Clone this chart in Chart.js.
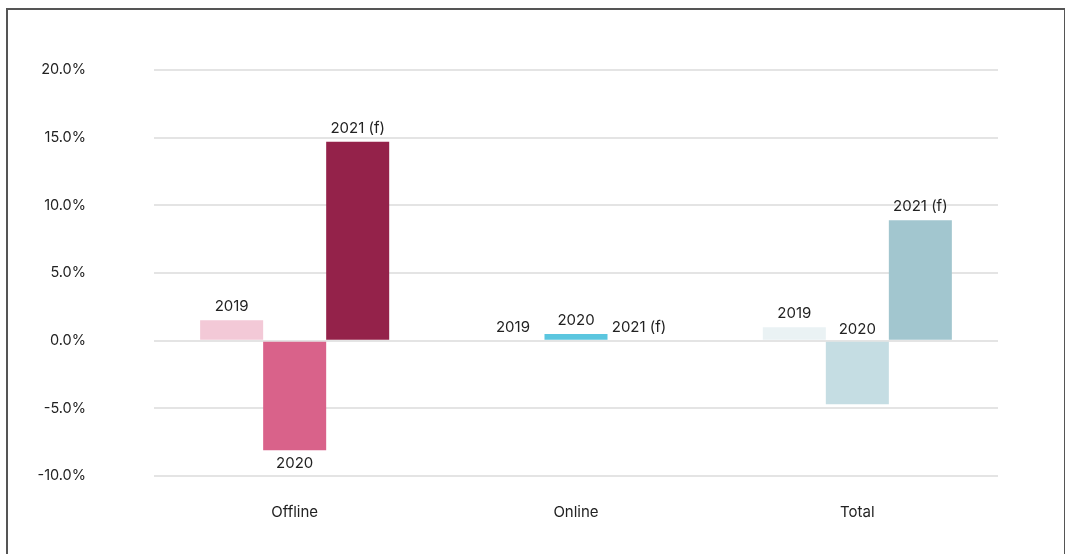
<!DOCTYPE html>
<html>
<head>
<meta charset="utf-8">
<script src="https://cdn.jsdelivr.net/npm/chart.js@4.4.1/dist/chart.umd.min.js"></script>
<style>
  html, body { margin: 0; padding: 0; background: #fff; }
  #wrap { position: relative; width: 1065px; height: 554px; }
  #frame {
    position: absolute; left: 6px; top: 8px; width: 1056px; height: 600px;
    border: 2px solid #555; border-bottom: none; pointer-events: none;
  }
</style>
</head>
<body>
<div id="wrap">
  <canvas id="growthChart"></canvas>
  <div id="frame"></div>
</div>
<script>
const categories = ['Offline', 'Online', 'Total'];
const seriesNames = ['2019', '2020', '2021 (f)'];
const values2019 = [1.5, 0, 1.0];
const values2020 = [-8.1, 0.5, -4.7];
const values2021 = [14.7, 0, 8.9];
const yTicks = [-10, -5, 0, 5, 10, 15, 20];

// colour per category (Offline, Online, Total)
const colors2019 = ['#f3c9d7', '#c9ecf5', '#eaf2f4'];
const colors2020 = ['#d9628a', '#5bc6df', '#c5dde3'];
const colors2021 = ['#94224a', '#2b8fa8', '#a2c6cf'];

// where the year name sits: 'end' = past the end of the bar, 'zero' = just above the zero line
const place2019 = ['end', 'end', 'end'];
const place2020 = ['end', 'end', 'zero'];
const place2021 = ['end', 'end', 'end'];

const FONT = 'Inter, "DejaVu Sans", sans-serif';

const yearLabels = {
  id: 'yearLabels',
  afterDatasetsDraw(chart) {
    const ctx = chart.ctx;
    ctx.save();
    ctx.font = '15px ' + FONT;
    ctx.fillStyle = '#222';
    ctx.textAlign = 'center';
    chart.data.datasets.forEach((ds, i) => {
      chart.getDatasetMeta(i).data.forEach((bar, j) => {
        const v = ds.data[j];
        if (ds.place[j] === 'zero') {
          ctx.textBaseline = 'bottom';
          ctx.fillText(ds.label, bar.x, bar.base - 5);
        } else if (v < 0) {
          ctx.textBaseline = 'top';
          ctx.fillText(ds.label, bar.x, bar.y + 6);
        } else {
          ctx.textBaseline = 'bottom';
          ctx.fillText(ds.label, bar.x, bar.y - 6);
        }
      });
    });
    ctx.restore();
  }
};

const ctx = document.getElementById('growthChart').getContext('2d');
new Chart(ctx, {
  type: 'bar',
  data: {
    labels: categories,
    datasets: [
      { label: seriesNames[0], data: values2019, backgroundColor: colors2019, place: place2019 },
      { label: seriesNames[1], data: values2020, backgroundColor: colors2020, place: place2020 },
      { label: seriesNames[2], data: values2021, backgroundColor: colors2021, place: place2021 }
    ]
  },
  options: {
    responsive: true,
    maintainAspectRatio: false,
    animation: { duration: 0 },
    layout: { padding: { left: 0, right: 67, top: 70, bottom: 0 } },
    datasets: { bar: { barPercentage: 1, categoryPercentage: 0.672 } },
    plugins: {
      legend: { display: false },
      tooltip: { enabled: false }
    },
    scales: {
      x: {
        grid: { display: false },
        border: { display: false },
        ticks: { color: '#222', padding: 19, font: { family: FONT, size: 15 } },
        afterFit: s => {
          s.height = 78;
          s.paddingLeft = 0; s.paddingRight = 0;
        }
      },
      y: {
        min: yTicks[0],
        max: yTicks[yTicks.length - 1],
        afterBuildTicks: s => { s.ticks = yTicks.map(v => ({ value: v })); },
        grid: { color: '#e4e4e4', lineWidth: 2, drawTicks: false },
        border: { display: false },
        ticks: {
          color: '#222',
          padding: 68,
          font: { family: FONT, size: 14.5 },
          callback: v => v.toFixed(1) + '%'
        },
        afterFit: s => {
          s.width = 154;
          s.paddingTop = 0; s.paddingBottom = 0;
        }
      }
    }
  },
  plugins: [yearLabels]
});
</script>
</body>
</html>
